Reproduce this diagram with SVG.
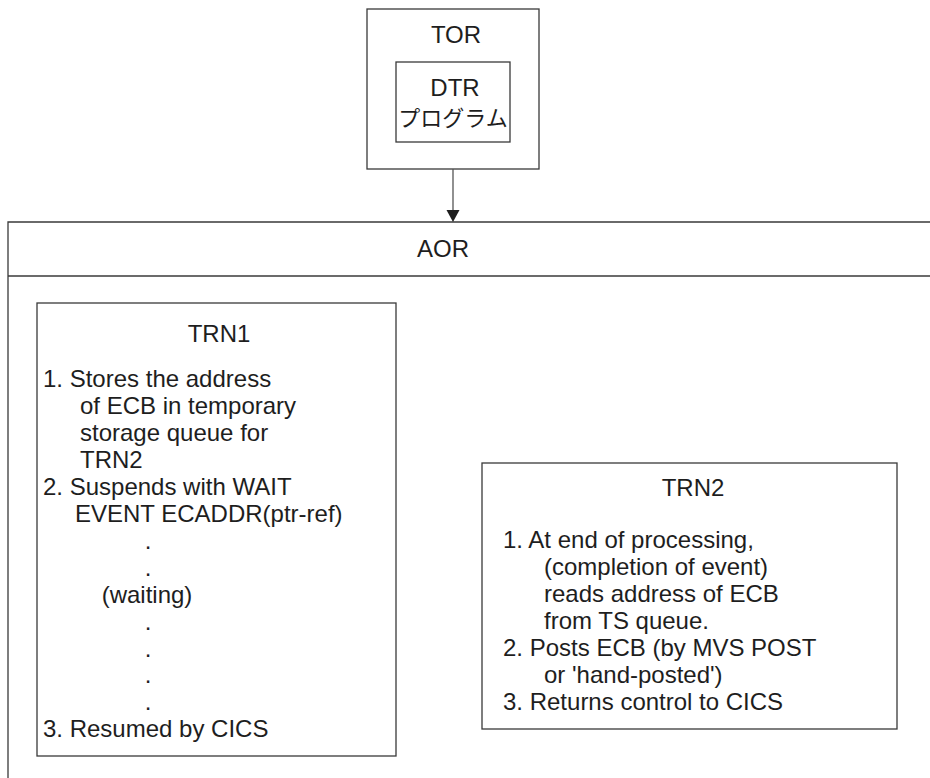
<svg xmlns="http://www.w3.org/2000/svg" width="930" height="778" viewBox="0 0 930 778">
<style>
.box{fill:none;stroke:#3a3a3a;stroke-width:1.3}
.t{font-family:"Liberation Sans",Arial,"Noto Sans CJK JP",sans-serif;font-size:24px;fill:#1e1e1e}
.jp{font-family:"Noto Sans CJK JP","Liberation Sans",sans-serif;font-size:22px;fill:#1e1e1e}
.c{text-anchor:middle}
.conn{stroke:#555;stroke-width:1.3;fill:none}
.head{fill:#1e1e1e}
</style>
<rect width="930" height="778" fill="#fff"/>
<g id="tor">
<rect class="box" x="367" y="9" width="172" height="160"/>
<text class="t c" x="456" y="43">TOR</text>
</g>
<g id="dtr">
<rect class="box" x="396" y="62" width="114" height="80"/>
<text class="t c" x="455" y="96">DTR</text>
<text class="jp c" x="453" y="126">プログラム</text>
</g>
<g id="aor">
<path class="box" d="M930,222 H8 V778"/>
<line class="box" x1="8" y1="276" x2="930" y2="276"/>
<text class="t c" x="443" y="257">AOR</text>
</g>
<g id="trn1">
<rect class="box" x="37" y="303" width="359" height="453"/>
<text class="t c" x="219" y="342">TRN1</text>
<text class="t" x="43" y="387">1. Stores the address</text>
<text class="t" x="80" y="414">of ECB in temporary</text>
<text class="t" x="80" y="441">storage queue for</text>
<text class="t" x="80" y="468">TRN2</text>
<text class="t" x="43" y="495">2. Suspends with WAIT</text>
<text class="t" x="75" y="522">EVENT ECADDR(ptr-ref)</text>
<text class="t c" x="148" y="549">.</text>
<text class="t c" x="148" y="576">.</text>
<text class="t c" x="147" y="603">(waiting)</text>
<text class="t c" x="148" y="630">.</text>
<text class="t c" x="148" y="657">.</text>
<text class="t c" x="148" y="683">.</text>
<text class="t c" x="148" y="710">.</text>
<text class="t" x="43" y="737">3. Resumed by CICS</text>
</g>
<g id="trn2">
<rect class="box" x="482" y="463" width="415" height="266"/>
<text class="t c" x="693" y="496">TRN2</text>
<text class="t" x="503" y="548">1. At end of processing,</text>
<text class="t" x="544" y="575">(completion of event)</text>
<text class="t" x="544" y="602">reads address of ECB</text>
<text class="t" x="544" y="629">from TS queue.</text>
<text class="t" x="503" y="656">2. Posts ECB (by MVS POST</text>
<text class="t" x="544" y="683">or 'hand-posted')</text>
<text class="t" x="503" y="710">3. Returns control to CICS</text>
</g>
<g id="connectors">
<line class="conn" x1="453" y1="169" x2="453" y2="210"/>
<polygon class="head" points="446.5,210 459.5,210 453,222"/>
</g>
</svg>
